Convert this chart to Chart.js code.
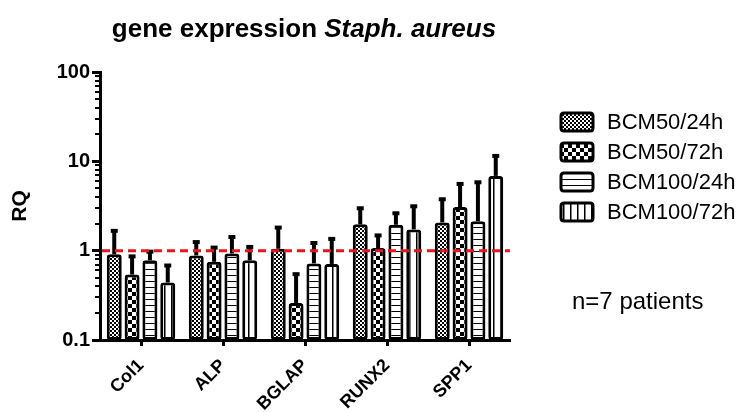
<!DOCTYPE html>
<html>
<head>
<meta charset="utf-8">
<script src="https://cdn.jsdelivr.net/npm/chart.js@4.4.1/dist/chart.umd.min.js"></script>
<style>
  html, body { margin: 0; padding: 0; background: #fff; }
  #wrap { width: 738px; height: 412px; }
</style>
</head>
<body>
<div id="wrap"><canvas id="myChart" width="738" height="412"></canvas></div>
<script>
// data
const categories = ["Col1", "ALP", "BGLAP", "RUNX2", "SPP1"];
const seriesLabels = ["BCM50/24h", "BCM50/72h", "BCM100/24h", "BCM100/72h"];
const bcm50_24h = [0.91, 0.885, 1.05, 1.97, 2.07];
const bcm50_72h = [0.54, 0.75, 0.26, 1.07, 3.08];
const bcm100_24h = [0.78, 0.93, 0.72, 1.95, 2.13];
const bcm100_72h = [0.44, 0.78, 0.71, 1.73, 6.87];
// top end of each error bar
const bcm50_24hErr = [1.71, 1.28, 1.86, 3.06, 3.86];
const bcm50_72hErr = [0.885, 1.11, 0.56, 1.52, 5.73];
const bcm100_24hErr = [1.0, 1.46, 1.25, 2.69, 5.98];
const bcm100_72hErr = [0.70, 1.13, 1.39, 3.22, 11.8];
const yTickLabels = ["0.1", "1", "10", "100"];
const refLine = 1;
const noteText = "n=7 patients";

const FONT = "'Liberation Sans', Arial, sans-serif";
const canvas = document.getElementById("myChart");
const ctx = canvas.getContext("2d");

function makePattern(size, draw) {
  const c = document.createElement("canvas");
  c.width = size;
  c.height = size;
  const g = c.getContext("2d");
  g.fillStyle = "#fff";
  g.fillRect(0, 0, size, size);
  g.fillStyle = "#000";
  draw(g, size);
  return ctx.createPattern(c, "repeat");
}

const patterns = [
  makePattern(4, (g) => { g.fillRect(0, 0, 2, 2); g.fillRect(2, 2, 2, 2); }),
  makePattern(8, (g) => { g.fillRect(0, 0, 4, 4); g.fillRect(4, 4, 4, 4); }),
  makePattern(6, (g) => { g.fillRect(0, 5, 6, 1.5); }),
  makePattern(7, (g) => { g.fillRect(3, 0, 1.5, 7); })
];

const values = [bcm50_24h, bcm50_72h, bcm100_24h, bcm100_72h];
const errors = [bcm50_24hErr, bcm50_72hErr, bcm100_24hErr, bcm100_72hErr];

function isDecade(v) {
  const l = Math.log10(v);
  return Math.abs(l - Math.round(l)) < 1e-9;
}

function roundRect(c, x, y, w, h, r) {
  c.beginPath();
  c.moveTo(x + r, y);
  c.lineTo(x + w - r, y);
  c.quadraticCurveTo(x + w, y, x + w, y + r);
  c.lineTo(x + w, y + h - r);
  c.quadraticCurveTo(x + w, y + h, x + w - r, y + h);
  c.lineTo(x + r, y + h);
  c.quadraticCurveTo(x, y + h, x, y + h - r);
  c.lineTo(x, y + r);
  c.quadraticCurveTo(x, y, x + r, y);
  c.closePath();
}

// error bars, dashed line at 1, minor ticks, title, legend
const overlay = {
  id: "overlay",
  afterDatasetsDraw(chart) {
    const c = chart.ctx;
    const y = chart.scales.y;
    const area = chart.chartArea;
    c.save();
    c.strokeStyle = "#000";
    c.lineCap = "butt";
    chart.data.datasets.forEach((ds, i) => {
      const meta = chart.getDatasetMeta(i);
      meta.data.forEach((bar, j) => {
        const yTop = bar.y;
        const yErr = y.getPixelForValue(errors[i][j]);
        c.lineWidth = 4;
        c.beginPath();
        c.moveTo(bar.x, yTop);
        c.lineTo(bar.x, yErr);
        c.stroke();
        c.beginPath();
        c.moveTo(bar.x - 3.5, yErr + 1);
        c.lineTo(bar.x + 3.5, yErr + 1);
        c.stroke();
      });
    });
    // reference line
    const yr = y.getPixelForValue(refLine);
    c.strokeStyle = "#e8161b";
    c.lineWidth = 3;
    c.setLineDash([8, 5]);
    c.beginPath();
    c.moveTo(area.left + 2, yr);
    c.lineTo(area.right, yr);
    c.stroke();
    c.restore();
  },
  afterDraw(chart) {
    const c = chart.ctx;
    const y = chart.scales.y;
    const area = chart.chartArea;
    c.save();
    // minor ticks on y axis
    c.strokeStyle = "#000";
    c.lineWidth = 2;
    y.ticks.forEach((t) => {
      if (isDecade(t.value)) return;
      const py = Math.round(y.getPixelForValue(t.value));
      c.beginPath();
      c.moveTo(area.left - 5, py);
      c.lineTo(area.left, py);
      c.stroke();
    });
    // title with italic species name
    const part1 = "gene expression ";
    const part2 = "Staph. aureus";
    c.fillStyle = "#000";
    c.textBaseline = "alphabetic";
    c.font = "bold 26px " + FONT;
    const w1 = c.measureText(part1).width;
    c.font = "italic bold 26px " + FONT;
    const w2 = c.measureText(part2).width;
    const x0 = 304 - (w1 + w2) / 2;
    c.textAlign = "left";
    c.font = "bold 26px " + FONT;
    c.fillText(part1, x0, 37);
    c.font = "italic bold 26px " + FONT;
    c.fillText(part2, x0 + w1, 37);
    // legend
    c.font = "22px " + FONT;
    c.textBaseline = "middle";
    seriesLabels.forEach((label, i) => {
      const cy = 122 + i * 30;
      roundRect(c, 561, cy - 9, 32, 18, 3);
      c.fillStyle = patterns[i];
      c.fill();
      c.lineWidth = 3;
      c.strokeStyle = "#000";
      c.stroke();
      c.fillStyle = "#000";
      c.fillText(label, 607, cy + 1);
    });
    c.font = "24px " + FONT;
    c.fillText(noteText, 572, 302);
    c.restore();
  }
};

const data = {
  labels: categories,
  datasets: values.map((vals, i) => ({
    label: seriesLabels[i],
    data: vals,
    backgroundColor: patterns[i],
    borderColor: "#000",
    borderWidth: 3,
    borderRadius: 3,
    borderSkipped: false,
    barPercentage: 0.84,
    categoryPercentage: 0.87
  }))
};

const config = {
  type: "bar",
  data,
  plugins: [overlay],
  options: {
    responsive: false,
    animation: false,
    layout: { padding: { top: 72, right: 228, left: 0, bottom: 0 } },
    plugins: {
      legend: { display: false },
      tooltip: { enabled: false },
      title: { display: false }
    },
    scales: {
      x: {
        afterFit: (scale) => { scale.height = 72; },
        grid: {
          offset: false,
          drawOnChartArea: false,
          tickLength: 6,
          tickWidth: 3,
          tickColor: "#000"
        },
        border: { color: "#000", width: 3 },
        ticks: {
          color: "#000",
          font: { family: FONT, size: 18, weight: "bold" },
          minRotation: 45,
          maxRotation: 45,
          padding: 9
        }
      },
      y: {
        type: "logarithmic",
        min: 0.1,
        max: 100,
        afterFit: (scale) => { scale.width = 100; },
        afterBuildTicks: (scale) => {
          const t = [];
          for (let e = -1; e < 2; e++) {
            for (let s = 1; s < 10; s++) {
              const v = parseFloat((s * Math.pow(10, e)).toPrecision(3));
              t.push({ value: v, major: s === 1 });
            }
          }
          t.push({ value: 100, major: true });
          scale.ticks = t;
        },
        grid: {
          drawOnChartArea: false,
          tickLength: 8,
          tickWidth: 3,
          tickColor: (c) => (c.tick && isDecade(c.tick.value) ? "#000" : "rgba(0,0,0,0)")
        },
        border: { color: "#000", width: 3 },
        ticks: {
          autoSkip: false,
          color: "#000",
          padding: 2,
          font: { family: FONT, size: 20, weight: "bold" },
          callback: (v) => {
            if (!isDecade(v)) return "";
            const idx = Math.round(Math.log10(v)) + 1;
            return yTickLabels[idx];
          }
        },
        title: {
          display: true,
          text: "RQ",
          color: "#000",
          font: { family: FONT, size: 21, weight: "bold" },
          padding: { top: 8, bottom: 0 }
        }
      }
    }
  }
};

const myChart = new Chart(canvas, config);
</script>
</body>
</html>
